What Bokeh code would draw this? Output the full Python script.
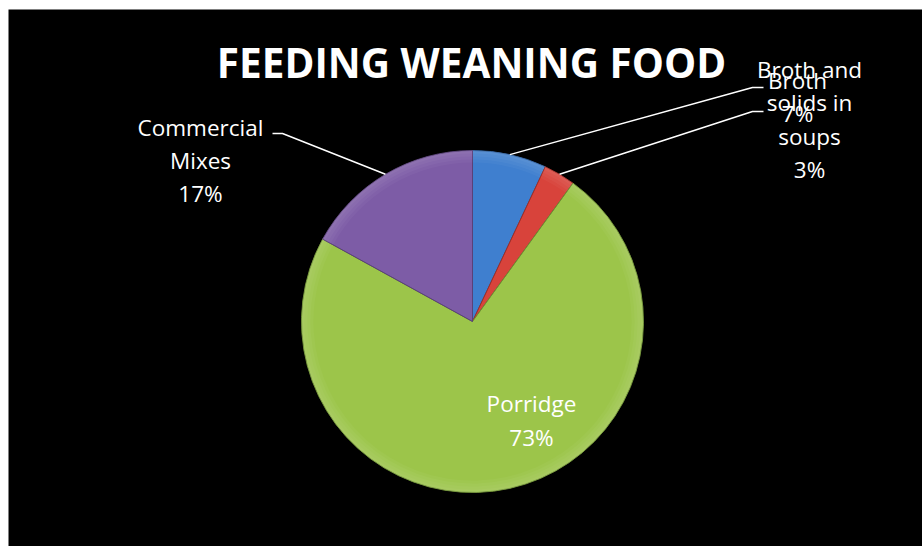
import math
from bokeh.plotting import figure
from bokeh.models import Range1d
from bokeh.core.properties import value
from bokeh.embed import file_html
from bokeh.resources import INLINE

# ---- data ----
categories = ["Broth", "Broth and solids in soups", "Porridge", "Commercial Mixes"]
percents = [7, 3, 73, 17]
label_lines = [["Broth", "7%"], ["Broth and", "solids in", "soups", "3%"],
               ["Porridge", "73%"], ["Commercial", "Mixes", "17%"]]
colors = ["#3F7FCF", "#D8433B", "#9CC54A", "#7D5CA6"]
edge_colors = ["#2E5F9C", "#9E2E28", "#6E8F33", "#5A4179"]
title = "FEEDING WEANING FOOD"

W, H = 922, 546
L, T = 8, 9
p = figure(width=W, height=H, output_backend="svg", toolbar_location=None,
           x_range=Range1d(L, W), y_range=Range1d(0, H - T),
           min_border_left=L, min_border_top=T, min_border_right=0, min_border_bottom=0)
p.axis.visible = False
p.grid.visible = False
p.outline_line_color = None
p.background_fill_color = "black"
p.border_fill_color = "white"

def Y(py):
    return H - py

cx, cy, r = 472, Y(321), 171
total = sum(percents)
start = math.pi / 2
mids = []
for pct, col, ec in zip(percents, colors, edge_colors):
    sweep = 2 * math.pi * pct / total
    end = start - sweep
    p.wedge(x=cx, y=cy, radius=r, start_angle=end, end_angle=start,
            fill_color=col, line_color=ec, line_width=1)
    # soft bevel rim (stacked translucent rings)
    for k in range(4):
        p.annular_wedge(x=cx, y=cy, inner_radius=r - 3 * (k + 1), outer_radius=r,
                        start_angle=end, end_angle=start, fill_color="white",
                        fill_alpha=0.035, line_color=None)
    mids.append(start - sweep / 2)
    start = end

# leader lines: (elbow x, elbow y, tail x) in pixels
leaders = {0: (752, 87, 763), 1: (752, 111, 763), 3: (282, 133, 272)}
for i, (ex, ey, tx) in leaders.items():
    a = mids[i]
    px = cx + r * math.cos(a)
    py = cy + r * math.sin(a)
    p.line([px, ex, tx], [py, Y(ey), Y(ey)], line_color="white", line_width=1.5)

# labels: center x, first line y (pixels), line spacing
label_pos = [(797, 80, 33), (809, 69, 33.3), (531, 403, 34), (200, 127, 33)]
for lines, (lx, ly, dy) in zip(label_lines, label_pos):
    xs = [lx] * len(lines)
    ys = [Y(ly + k * dy) for k in range(len(lines))]
    p.text(x=xs, y=ys, text=lines, text_color="white", text_align="center",
           text_baseline="middle", text_font=value("Open Sans"),
           text_font_size="22.5px")

p.text(x=[471], y=[Y(62)], text=[title], text_color="white", text_align="center",
       text_baseline="middle", text_font=value("Open Sans"), text_font_style="bold",
       text_font_size="40.5px")

open("out.html", "w").write(file_html(p, INLINE))
